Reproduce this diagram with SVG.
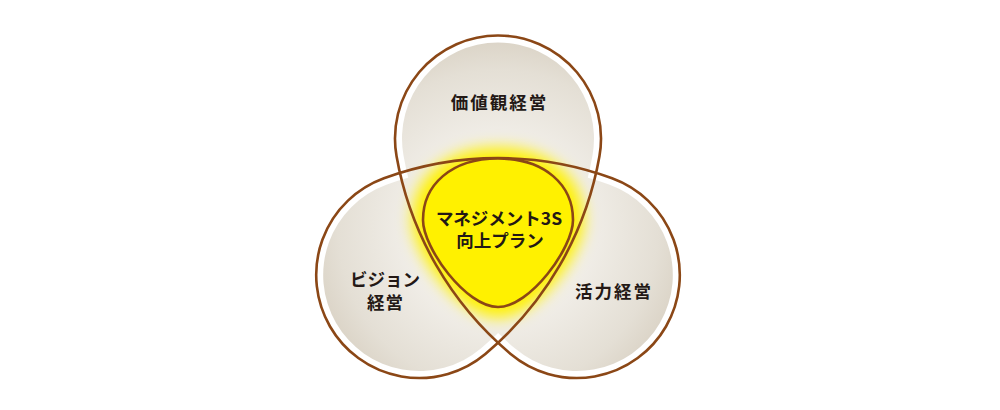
<svg xmlns="http://www.w3.org/2000/svg" width="1000" height="410" viewBox="0 0 1000 410">
  <defs>
    <radialGradient id="lobeFill" gradientUnits="userSpaceOnUse" cx="498" cy="229.5" r="200">
      <stop offset="0" stop-color="#f8f7f3"/>
      <stop offset="0.45" stop-color="#f1eee8"/>
      <stop offset="0.8" stop-color="#e4dfd5"/>
      <stop offset="1" stop-color="#d8d0c2"/>
    </radialGradient>
    <filter id="glow" x="-40%" y="-40%" width="180%" height="180%">
      <feGaussianBlur stdDeviation="7.5"/>
    </filter>
    <path id="pick" d="M 498,158.5 C 545,158.5 573,185 573,220 C 573,248 530,307 498,307 C 466,307 423,248 423,220 C 423,185 451,158.5 498,158.5 Z"/>
  </defs>
  <style>
    .lobe { fill: url(#lobeFill); stroke: none; }
    .line { fill: none; stroke: #8b4716; stroke-width: 2.6; }
    .label { font-family: "Noto Sans CJK JP", "Noto Sans", sans-serif; font-weight: 700; font-size: 17.5px; fill: #231815; text-anchor: middle; }
  </style>
  <rect width="1000" height="410" fill="#ffffff"/>

  <g id="node-top">
    <path class="lobe" d="M 592.55,155.14 A 96 96 0 1 0 403.45,155.14 A 326.2 326.2 0 0 0 498,333.13 A 326.2 326.2 0 0 0 592.55,155.14 Z"/>
  </g>
  <g id="node-left">
    <path class="lobe" d="M 386.32,184.8 A 96 96 0 1 0 480.87,348.56 A 326.2 326.2 0 0 0 587.75,177.68 A 326.2 326.2 0 0 0 386.32,184.8 Z"/>
  </g>
  <g id="node-right">
    <path class="lobe" d="M 515.13,348.56 A 96 96 0 1 0 609.68,184.8 A 326.2 326.2 0 0 0 408.25,177.68 A 326.2 326.2 0 0 0 515.13,348.56 Z"/>
  </g>

  <g id="glow-layer" filter="url(#glow)">
    <use href="#pick" fill="#fff100" stroke="#fff100" stroke-width="22" stroke-linejoin="round"/>
  </g>

  <g id="connectors">
    <path class="line" d="M 599.44,156.35 A 103 103 0 1 0 396.56,156.35 A 333.2 333.2 0 0 0 510.63,353.93 A 103 103 0 1 0 612.07,178.22 A 333.2 333.2 0 0 0 383.93,178.22 A 103 103 0 1 0 485.37,353.93 A 333.2 333.2 0 0 0 599.44,156.35 Z"/>
  </g>

  <g id="node-center">
    <use href="#pick" fill="#fff100" stroke="#8b4716" stroke-width="2.6"/>
    <text class="label"><tspan x="499" y="224.5">マネジメント3S</tspan><tspan x="500" y="246.5">向上プラン</tspan></text>
  </g>

  <g id="labels">
    <text class="label" x="499.5" y="109" letter-spacing="2">価値観経営</text>
    <text class="label"><tspan x="385" y="286">ビジョン</tspan><tspan x="385.5" y="308.5" letter-spacing="1">経営</tspan></text>
    <text class="label" x="614" y="297.5" letter-spacing="2">活力経営</text>
  </g>
</svg>
